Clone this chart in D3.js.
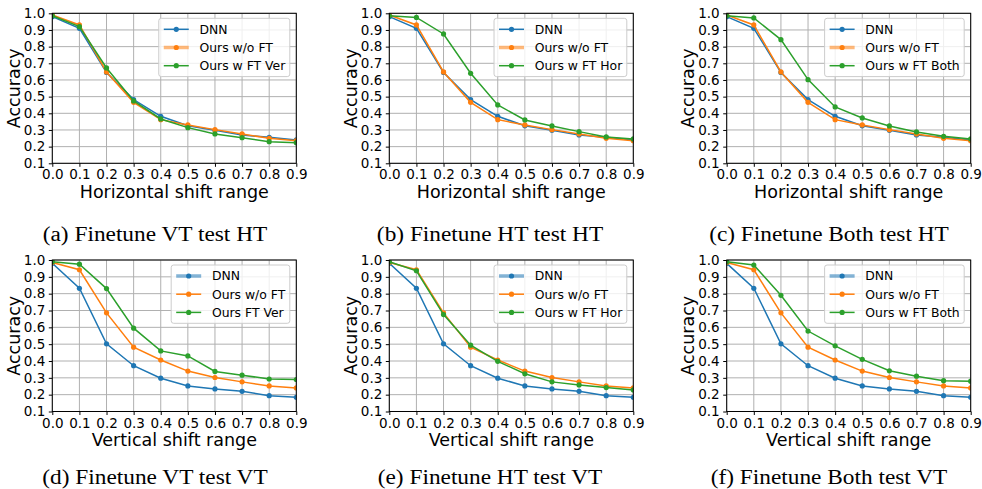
<!DOCTYPE html>
<html><head><meta charset="utf-8">
<script src="https://cdn.jsdelivr.net/npm/d3@7"></script>
<style>body{margin:0;background:#fff}svg{display:block}</style></head>
<body>
<svg id="c" width="982" height="489"></svg>
<script>
// ---------- data ----------
const shiftRange = [0.0, 0.1, 0.2, 0.3, 0.4, 0.5, 0.6, 0.7, 0.8, 0.9];
const yTickValues = [0.1, 0.2, 0.3, 0.4, 0.5, 0.6, 0.7, 0.8, 0.9, 1.0];

// Horizontal-shift tests (top row)
const dnnHT      = [0.98, 0.910, 0.645, 0.482, 0.382, 0.325, 0.298, 0.270, 0.256, 0.240];
const oursHT     = [0.99, 0.930, 0.648, 0.466, 0.362, 0.330, 0.302, 0.276, 0.250, 0.236];
const ftVerHT    = [0.985, 0.920, 0.672, 0.474, 0.366, 0.314, 0.276, 0.254, 0.230, 0.224];
const ftHorHT    = [0.985, 0.975, 0.876, 0.640, 0.450, 0.360, 0.324, 0.290, 0.258, 0.246];
const ftBothHT   = [0.985, 0.972, 0.842, 0.602, 0.438, 0.372, 0.324, 0.288, 0.262, 0.246];

// Vertical-shift tests (bottom row)
const dnnVT      = [0.98, 0.832, 0.502, 0.372, 0.298, 0.252, 0.234, 0.220, 0.194, 0.184];
const oursVT     = [0.985, 0.942, 0.686, 0.482, 0.406, 0.340, 0.302, 0.276, 0.252, 0.240];
const ftVerVT    = [0.99, 0.975, 0.830, 0.595, 0.460, 0.430, 0.338, 0.316, 0.293, 0.290];
const ftHorVT    = [0.99, 0.936, 0.676, 0.494, 0.398, 0.324, 0.276, 0.258, 0.242, 0.228];
const ftBothVT   = [0.99, 0.970, 0.790, 0.578, 0.490, 0.410, 0.342, 0.310, 0.283, 0.280];

const seriesNamesA = ["DNN", "Ours w/o FT", "Ours w FT Ver"];
const seriesNamesB = ["DNN", "Ours w/o FT", "Ours w FT Hor"];
const seriesNamesC = ["DNN", "Ours w/o FT", "Ours w FT Both"];
const seriesNamesD = ["DNN", "Ours w/o FT", "Ours FT Ver"];
const seriesNamesE = ["DNN", "Ours w/o FT", "Ours w FT Hor"];
const seriesNamesF = ["DNN", "Ours w/o FT", "Ours w FT Both"];

const xTitles = ["Horizontal shift range", "Vertical shift range"];
const yTitle = "Accuracy";
const captions = ["(a) Finetune VT test HT", "(b) Finetune HT test HT", "(c) Finetune Both test HT",
                  "(d) Finetune VT test VT", "(e) Finetune HT test VT", "(f) Finetune Both test VT"];

const colors = ["#1f77b4", "#ff7f0e", "#2ca02c"];

// ---------- panel table ----------
const panels = [
  {names: seriesNamesA, data: [dnnHT, oursHT, ftVerHT], row: 0, col: 0, hl: 1},
  {names: seriesNamesB, data: [dnnHT, oursHT, ftHorHT], row: 0, col: 1, hl: 1},
  {names: seriesNamesC, data: [dnnHT, oursHT, ftBothHT], row: 0, col: 2, hl: 1},
  {names: seriesNamesD, data: [dnnVT, oursVT, ftVerVT], row: 1, col: 0, hl: 0},
  {names: seriesNamesE, data: [dnnVT, oursVT, ftHorVT], row: 1, col: 1, hl: 0},
  {names: seriesNamesF, data: [dnnVT, oursVT, ftBothVT], row: 1, col: 2, hl: 0},
];

const colLeft = [52.3, 389.3, 726.7];
const rowTop = [13.3, 260];
const plotW = 244;
const rowH = [150, 151.5];
const capCenter = [155, 490, 829];
const capBase = [241, 484];

const svg = d3.select("#c");
const FONT = "DejaVu Sans, sans-serif";

panels.forEach((p, i) => {
  const W = plotW, H = rowH[p.row];
  const g = svg.append("g").attr("transform", `translate(${colLeft[p.col]},${rowTop[p.row]})`);
  const x = d3.scaleLinear().domain([0, 0.9]).range([0, W]);
  const y = d3.scaleLinear().domain([0.1, 1.0]).range([H, 0]);

  // grid
  g.append("g").selectAll("line").data(shiftRange).join("line")
    .attr("x1", d => x(d)).attr("x2", d => x(d)).attr("y1", 0).attr("y2", H)
    .attr("stroke", "#b0b0b0").attr("stroke-width", 1);
  g.append("g").selectAll("line").data(yTickValues).join("line")
    .attr("y1", d => y(d)).attr("y2", d => y(d)).attr("x1", 0).attr("x2", W)
    .attr("stroke", "#b0b0b0").attr("stroke-width", 1);

  // clip
  const cid = "clip" + i;
  g.append("clipPath").attr("id", cid).append("rect").attr("width", W).attr("height", H);
  const plotG = g.append("g").attr("clip-path", `url(#${cid})`);
  const line = d3.line().x((d, j) => x(shiftRange[j])).y(d => y(d));
  p.data.forEach((vals, s) => {
    plotG.append("path").datum(vals).attr("d", line)
      .attr("fill", "none").attr("stroke", colors[s]).attr("stroke-width", 1.5);
    plotG.append("g").selectAll("circle").data(vals).join("circle")
      .attr("cx", (d, j) => x(shiftRange[j])).attr("cy", d => y(d)).attr("r", 2.6)
      .attr("fill", colors[s]);
  });

  // axes
  const xa = g.append("g").attr("transform", `translate(0,${H})`)
    .call(d3.axisBottom(x).tickValues(shiftRange).tickFormat(d3.format(".1f")).tickSize(3.5).tickPadding(3).tickSizeOuter(0));
  const ya = g.append("g")
    .call(d3.axisLeft(y).tickValues(yTickValues).tickFormat(d3.format(".1f")).tickSize(3.5).tickPadding(3.5).tickSizeOuter(0));
  [xa, ya].forEach(a => {
    a.select(".domain").remove();
    a.selectAll("line").attr("stroke", "#000").attr("stroke-width", 1);
    a.selectAll("text").attr("font-family", FONT).attr("font-size", "13.5px").attr("fill", "#000");
  });

  // frame
  g.append("rect").attr("width", W).attr("height", H).attr("fill", "none")
    .attr("stroke", "#000").attr("stroke-width", 1);

  // axis titles
  g.append("text").attr("x", W / 2).attr("y", H + 34.5).attr("text-anchor", "middle")
    .attr("font-family", FONT).attr("font-size", "17.5px").text(xTitles[p.row]);
  g.append("text").attr("transform", `translate(-32.3,${H / 2}) rotate(-90)`).attr("text-anchor", "middle")
    .attr("font-family", FONT).attr("font-size", "17.5px").text(yTitle);

  // legend
  const lg = g.append("g");
  const texts = p.names.map((n, s) => lg.append("text").attr("font-family", FONT).attr("font-size", "12.4px")
    .attr("dy", "0.35em").text(n));
  const tw = d3.max(texts, t => t.node().getComputedTextLength());
  const bw = 5 + 25 + 10.7 + tw + 4.5;
  const bx = W - 6.5 - bw, by = 5;
  lg.insert("rect", "text").attr("x", bx).attr("y", by).attr("width", bw).attr("height", 58.3)
    .attr("rx", 2.5).attr("fill", "#fff").attr("fill-opacity", 0.8).attr("stroke", "#cccccc").attr("stroke-width", 1);
  p.names.forEach((n, s) => {
    const ry = by + 11 + s * 18.2;
    const thick = s === p.hl;
    lg.insert("line", "text").attr("x1", bx + 5).attr("x2", bx + 30).attr("y1", ry).attr("y2", ry)
      .attr("stroke", colors[s]).attr("stroke-width", thick ? 3.5 : 1.5).attr("stroke-opacity", thick ? 0.55 : 1);
    lg.insert("circle", "text").attr("cx", bx + 17.5).attr("cy", ry).attr("r", 2.6).attr("fill", colors[s]);
    texts[s].attr("x", bx + 40.7).attr("y", ry);
  });

  // caption
  const cap = svg.append("text").attr("x", capCenter[p.col]).attr("y", capBase[p.row])
    .attr("text-anchor", "middle").attr("font-family", "Liberation Serif, Times New Roman, serif")
    .attr("font-size", "21.6px").text(captions[i]);
  const cw = cap.node().getComputedTextLength();
  cap.attr("textLength", cw * 1.08).attr("lengthAdjust", "spacingAndGlyphs");
});
</script>
</body></html>
